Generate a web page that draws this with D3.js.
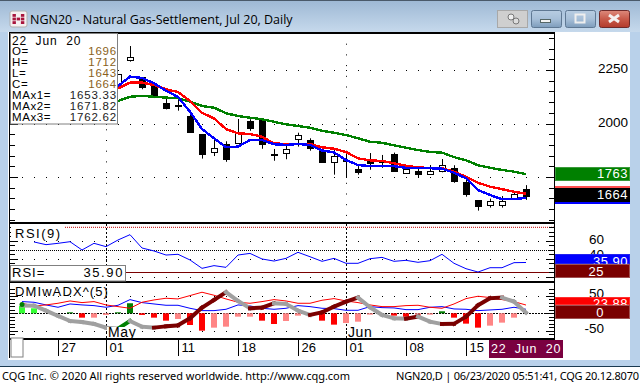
<!DOCTYPE html>
<html>
<head>
<meta charset="utf-8">
<script src="https://cdn.jsdelivr.net/npm/d3@7/dist/d3.min.js"></script>
<style>
html, body { margin: 0; padding: 0; background: #fff; overflow: hidden; }
svg { display: block; }
text { font-family: "Liberation Sans", sans-serif; fill: #000; }
</style>
</head>
<body>
<svg id="chart"></svg>
<script>
// trading days, 04-22 to 06-22
const dates = ['04-22', '04-23', '04-24', '04-27', '04-28', '04-29', '04-30', '05-01',
	'05-04', '05-05', '05-06', '05-07', '05-08', '05-11', '05-12', '05-13', '05-14', '05-15',
	'05-18', '05-19', '05-20', '05-21', '05-22', '05-26', '05-27', '05-28', '05-29',
	'06-01', '06-02', '06-03', '06-04', '06-05', '06-08', '06-09', '06-10', '06-11', '06-12',
	'06-15', '06-16', '06-17', '06-18', '06-19', '06-22'];

// price series begin 05-04 (the earlier bars sit behind the readout box)
const open = [2175, 2298, 2216, 2185, 2096, 2088, 2035, 1951, 1864, 1903, 1907, 2012, 2016, 1857, 1859, 1926, 1921, 1876, 1819,
	1829, 1787, 1829, 1825, 1857, 1767, 1778, 1763, 1779, 1791, 1725, 1641, 1618, 1621, 1649, 1696];
const high = [2231, 2362, 2217, 2194, 2118, 2122, 2055, 1951, 1923, 1917, 2021, 2020, 2024, 1881, 1904, 1957, 1931, 1878, 1876,
	1871, 1801, 1862, 1853, 1864, 1801, 1798, 1806, 1834, 1805, 1736, 1641, 1649, 1661, 1683, 1712];
const low = [2175, 2289, 2160, 2119, 2066, 2060, 1962, 1836, 1848, 1821, 1907, 1966, 1882, 1826, 1833, 1892, 1873, 1821, 1761,
	1750, 1761, 1784, 1793, 1775, 1767, 1747, 1763, 1772, 1723, 1658, 1593, 1607, 1607, 1649, 1643];
const close = [2231, 2311, 2169, 2129, 2074, 2082, 1962, 1856, 1884, 1831, 1959, 1980, 1906, 1851, 1879, 1945, 1882, 1821, 1847,
	1825, 1773, 1815, 1820, 1779, 1786, 1765, 1777, 1807, 1728, 1667, 1611, 1636, 1638, 1669, 1664];
const maBlue = [2175, 2219, 2213, 2188, 2153, 2124, 2055, 1974, 1931, 1889, 1892, 1923, 1923, 1903, 1900, 1904, 1900, 1874, 1865,
	1829, 1806, 1801, 1801, 1801, 1793, 1791, 1791, 1789, 1770, 1744, 1689, 1666, 1646, 1646, 1653];
const maRed = [2164, 2191, 2191, 2180, 2160, 2147, 2105, 2050, 2024, 1974, 1954, 1951, 1938, 1907, 1904, 1904, 1904, 1889, 1882,
	1867, 1837, 1828, 1825, 1814, 1803, 1795, 1792, 1791, 1775, 1751, 1723, 1705, 1693, 1681, 1672];
const maGreen = [2105, 2125, 2129, 2125, 2121, 2118, 2102, 2082, 2074, 2048, 2035, 2027, 2020, 2008, 1996, 1988, 1980, 1966, 1957,
	1946, 1931, 1915, 1910, 1898, 1887, 1876, 1867, 1864, 1843, 1828, 1805, 1793, 1783, 1775, 1763];

// RSI begins 04-23
const rsi = [58.7, 55.7, 57.2, 59, 49.8, 57.2, 53.5, 60.9, 66.8, 52, 48.7, 44.2, 45, 38.7, 29.4, 32.4, 30.5, 44.2, 46, 39.8, 37.5,
	40.5, 47.2, 42.3, 37.2, 40.5, 35, 35, 40.1, 41.6, 37.2, 38.3, 36.1, 37.9, 45, 35, 29, 25.3, 30.1, 30.1, 35.7, 35.9];

// DMI series begin 04-22
const dmiRed = [29, 21.3, 24.2, 29, 35.7, 30.9, 33.8, 24.2, 19.3, 14.5, 31.9, 38.6, 43.5, 41.5, 51.2, 60.9, 52.2, 41.5, 31.9, 29, 33.8, 39.6,
	35.7, 29, 29, 37.7, 42.5, 35.7, 30.9, 24.2, 19.3, 19.3, 22.2, 23.2, 17.4, 14.5, 27, 42.5, 49.3, 45.4, 39.6, 33.8, 23.88];
const dmiBlue = [33.8, 31.9, 24.2, 17.4, 27, 24.2, 22.2, 17.4, 23.2, 39.6, 30.9, 27, 23.2, 23.2, 14.5, 7.7, 7.7, 11.6, 24.2, 21.3, 14.5, 11.6,
	14.5, 22.2, 19.3, 14.5, 13.5, 8.7, 8.7, 19.3, 16.4, 15.5, 10.6, 10.6, 17.4, 19.3, 12.6, 11.6, 7.7, 9.7, 11.6, 17.4, 11.6];
const adx = [22.2, 22, 7.7, -7.7, -22.2, -25.1, -30.9, -41.5, -44.4, -22.2, -38.6, -41.5, -37.7, -34.8, -14.5, 16.4, 38.6, 60.9, 35.7, 14.5, 16.4, 29,
	27, 7.7, -4.8, 2.9, 19.3, 33.8, 45.4, 17.4, -4.8, -14.5, -15.5, -9.7, -24.2, -30.9, -30.5, -9.7, 23.2, 43.5, 45.4, 33.8, 1.9];
const dmiHist = [21.3, 14.5, 0, 0, 2.9, -12.6, -12.6, -4.8, 2.9, 29, -4.8, -12.6, -21.3, -16.4, -33.8, -50.2, -41.5, -38.6, -9.7, -9.7, -21.3, -30.9,
	-22.2, -6.8, 0, -21.3, -32.8, -28, -24.2, -3.9, 0, -6.8, -10.6, -8.7, -3.9, 5.8, -12.6, -29.9, -41.5, -35.7, -27, -12.6, 0];

const dateTicks = [['04-27', '27'], ['05-01', '01'], ['05-11', '11'], ['05-18', '18'], ['05-26', '26'], ['06-01', '01'], ['06-08', '08'], ['06-15', '15']];
const monthMarks = [['05-01', 'May'], ['06-01', 'Jun']];
const priceLabels = [2250, 2000];
const readout = [['O=', '1696'], ['H=', '1712'], ['L=', '1643'], ['C=', '1664'], ['MAx1=', '1653.33'], ['MAx2=', '1671.82'], ['MAx3=', '1762.62']];

const width = 640, height = 384;
const left = 10, right = 554;
const mainTop = 33, mainBottom = 222, rsiTop = 224, rsiBottom = 281, dmiTop = 283, dmiBottom = 338;

const colors = { blue: '#0000ff', red: '#ff0000', green: '#008000', maroon: '#7a0000', gray: '#a0a0a0', pale: '#ff8585', lime: '#33ff33' };

const svg = d3.select('#chart').attr('width', width).attr('height', height);

const x = d3.scalePoint().domain(dates).range([22, 526]);
const yMain = d3.scaleLinear().domain([1750, 2250]).range([177, 70]);
const yRsi = d3.scaleLinear().domain([25, 75]).range([272.3, 227.3]);
const yDmi = d3.scaleLinear().domain([-50, 50]).range([330.6, 296]);

const priceDates = dates.slice(8);
const rsiDates = dates.slice(1);

// ---- window frame ----
const defs = svg.append('defs');
const titleGrad = defs.append('linearGradient').attr('id', 'title-grad').attr('x1', 0).attr('x2', 0).attr('y1', 0).attr('y2', 1);
titleGrad.append('stop').attr('offset', 0).attr('stop-color', '#9db8d4');
titleGrad.append('stop').attr('offset', 1).attr('stop-color', '#c6d9ec');
const btnGrad = defs.append('linearGradient').attr('id', 'btn-grad').attr('x1', 0).attr('x2', 0).attr('y1', 0).attr('y2', 1);
btnGrad.append('stop').attr('offset', 0).attr('stop-color', '#b8cde2');
btnGrad.append('stop').attr('offset', 0.5).attr('stop-color', '#a7bfd8');
btnGrad.append('stop').attr('offset', 1).attr('stop-color', '#7d9cbb');
const closeGrad = defs.append('linearGradient').attr('id', 'close-grad').attr('x1', 0).attr('x2', 0).attr('y1', 0).attr('y2', 1);
closeGrad.append('stop').attr('offset', 0).attr('stop-color', '#dd8a7c');
closeGrad.append('stop').attr('offset', 0.5).attr('stop-color', '#c85a4a');
closeGrad.append('stop').attr('offset', 1).attr('stop-color', '#b23a2c');

svg.append('rect').attr('width', width).attr('height', height).attr('fill', '#b9d1ea');
svg.append('rect').attr('width', width).attr('height', 32).attr('fill', 'url(#title-grad)');
svg.append('rect').attr('x', 0).attr('y', 0).attr('width', width).attr('height', 1).attr('fill', '#4a5a6a');
svg.append('rect').attr('x', 8).attr('y', 32).attr('width', 622).attr('height', 328).attr('fill', '#fff');
svg.append('rect').attr('x', 0).attr('y', 367).attr('width', width).attr('height', 17).attr('fill', '#fff');
svg.append('rect').attr('x', 0).attr('y', 366).attr('width', width).attr('height', 1).attr('fill', '#1a3a50');

// app icon
svg.append('rect').attr('x', 10).attr('y', 11).attr('width', 17).attr('height', 16).attr('rx', 2).attr('fill', '#f4f0f0').attr('stroke', '#b0b0b0');
d3.range(3).forEach(col => d3.range(3).forEach(row => {
	if ((col + row) % 2 === 0 || row === 1) {
		svg.append('rect').attr('x', 12.5 + col * 4.2).attr('y', 14 + row * 3.6).attr('width', 3.4).attr('height', 2.8).attr('fill', '#a8143c');
	}
}));
svg.append('text').attr('x', 30).attr('y', 24).style('font-family', '"Open Sans"').style('font-size', '12.5px')
	.text('NGN20 - Natural Gas-Settlement, Jul 20, Daily');

// title bar buttons
svg.append('rect').attr('x', 497.5).attr('y', 10.5).attr('width', 30).attr('height', 17).attr('fill', '#cfcfcf').attr('stroke', '#a8a8a8');
svg.append('circle').attr('cx', 511).attr('cy', 17).attr('r', 3).attr('fill', '#eee').attr('stroke', '#777');
svg.append('circle').attr('cx', 516).attr('cy', 21).attr('r', 3).attr('fill', '#ddd').attr('stroke', '#777');
svg.append('rect').attr('x', 531.5).attr('y', 10.5).attr('width', 30).attr('height', 17).attr('rx', 2).attr('fill', 'url(#btn-grad)').attr('stroke', '#5f7893');
svg.append('rect').attr('x', 540.5).attr('y', 19.5).attr('width', 10).attr('height', 3).attr('fill', '#f4f4f4').attr('stroke', '#566');
svg.append('rect').attr('x', 565.5).attr('y', 10.5).attr('width', 30).attr('height', 17).attr('rx', 2).attr('fill', 'url(#btn-grad)').attr('stroke', '#5f7893');
svg.append('rect').attr('x', 575.5).attr('y', 14.5).attr('width', 9).attr('height', 8).attr('fill', 'none').attr('stroke', '#eee').attr('stroke-width', 2);
svg.append('rect').attr('x', 599.5).attr('y', 10.5).attr('width', 30).attr('height', 17).attr('rx', 2).attr('fill', 'url(#close-grad)').attr('stroke', '#6e2a2a');
svg.append('path').attr('d', 'M609,15L619,22M619,15L609,22').attr('stroke', '#f4f0f0').attr('stroke-width', 3).attr('fill', 'none');

// ---- grid ----
const dotRow = (y) => {
	svg.append('g').selectAll('rect').data(dates.concat(['x'])).join('rect')
		.attr('x', (d, i) => i < dates.length ? x(d) : x(dates[dates.length - 1]) + 12)
		.attr('y', Math.round(y))
		.attr('width', 1).attr('height', 1).attr('fill', '#000');
};
[1750, 2000, 2250].forEach(v => dotRow(yMain(v)));
[20, 40, 60].forEach(v => dotRow(yRsi(v)));
[-50, 50].forEach(v => dotRow(yDmi(v)));

monthMarks.forEach(([d]) => {
	svg.append('line').attr('x1', x(d) + 0.5).attr('x2', x(d) + 0.5).attr('y1', mainTop).attr('y2', mainBottom)
		.attr('stroke', '#000').attr('stroke-dasharray', '1 9.7');
	svg.append('line').attr('x1', x(d) + 0.5).attr('x2', x(d) + 0.5).attr('y1', rsiTop).attr('y2', dmiBottom)
		.attr('stroke', '#000').attr('stroke-dasharray', '2 2');
});

// ---- price pane ----
const candles = svg.append('g').selectAll('g').data(priceDates).join('g');
candles.append('rect')
	.attr('x', d => x(d))
	.attr('width', 1)
	.attr('y', (d, i) => yMain(high[i]))
	.attr('height', (d, i) => yMain(low[i]) - yMain(high[i]))
	.attr('fill', '#000');
candles.append('rect')
	.attr('x', d => x(d) - 2.5)
	.attr('width', 6)
	.attr('y', (d, i) => Math.round(Math.min(yMain(open[i]), yMain(close[i]))) + 0.5)
	.attr('height', (d, i) => Math.max(1, Math.round(Math.abs(yMain(open[i]) - yMain(close[i])))))
	.attr('fill', (d, i) => close[i] > open[i] ? '#fff' : '#000')
	.attr('stroke', '#000')
	.attr('shape-rendering', 'crispEdges');

const lineOf = (scale, days) => d3.line().x((d, i) => x(days[i])).y(d => scale(d));
[[maGreen, colors.green], [maRed, colors.red], [maBlue, colors.blue]].forEach(([values, color]) => {
	svg.append('path').attr('d', lineOf(yMain, priceDates)(values))
		.attr('fill', 'none').attr('stroke', color).attr('stroke-width', 2.4).attr('shape-rendering', 'crispEdges');
});

// ---- RSI pane ----
svg.append('line').attr('x1', 65).attr('x2', right).attr('y1', yRsi(75)).attr('y2', yRsi(75))
	.attr('stroke', '#c00000').attr('stroke-dasharray', '1 1');
svg.append('line').attr('x1', left).attr('x2', right).attr('y1', Math.round(yRsi(50)) + 0.5).attr('y2', Math.round(yRsi(50)) + 0.5)
	.attr('stroke', '#000').attr('stroke-dasharray', '1 1');
svg.append('line').attr('x1', left).attr('x2', right).attr('y1', Math.round(yRsi(25)) + 0.5).attr('y2', Math.round(yRsi(25)) + 0.5)
	.attr('stroke', colors.maroon);
svg.append('path').attr('d', lineOf(yRsi, rsiDates)(rsi))
	.attr('fill', 'none').attr('stroke', colors.blue).attr('stroke-width', 1);

// ---- DMI pane ----
svg.append('line').attr('x1', left).attr('x2', right).attr('y1', Math.round(yDmi(0)) + 0.5).attr('y2', Math.round(yDmi(0)) + 0.5)
	.attr('stroke', '#000').attr('stroke-dasharray', '2 1');

const histColor = (v, i) => {
	const prev = i > 0 ? dmiHist[i - 1] : undefined;
	if (v > 0) return prev !== undefined && v > prev ? colors.green : colors.lime;
	return prev !== undefined && v < prev ? colors.red : colors.pale;
};
svg.append('g').selectAll('rect').data(dmiHist).join('rect')
	.attr('x', (d, i) => x(dates[i]) - 3)
	.attr('width', 6)
	.attr('y', d => Math.min(yDmi(d), yDmi(0)))
	.attr('height', d => Math.abs(yDmi(d) - yDmi(0)))
	.attr('fill', histColor);

svg.append('path').attr('d', lineOf(yDmi, dates)(dmiBlue))
	.attr('fill', 'none').attr('stroke', colors.blue).attr('stroke-width', 1);
svg.append('path').attr('d', lineOf(yDmi, dates)(dmiRed))
	.attr('fill', 'none').attr('stroke', colors.red).attr('stroke-width', 1);

// ADX segments: gray falling, green or dark red rising by the sign of the histogram
const adxColor = i => adx[i] <= adx[i - 1] ? colors.gray : (dmiHist[i] > 0 ? colors.green : colors.maroon);
svg.append('g').selectAll('line').data(d3.range(1, adx.length)).join('line')
	.attr('x1', i => x(dates[i - 1]))
	.attr('x2', i => x(dates[i]))
	.attr('y1', i => yDmi(adx[i - 1]))
	.attr('y2', i => yDmi(adx[i]))
	.attr('stroke', adxColor)
	.attr('stroke-width', 4)
	.attr('stroke-linecap', 'square');
svg.append('circle').attr('cx', x(dates[0])).attr('cy', yDmi(adx[0]) - 1).attr('r', 2.5).attr('fill', colors.green);

// ---- axes ----
const tickLen = (scale, values, major) => values.forEach(v => {
	const isMajor = major.includes(v);
	const y = Math.round(scale(v)) + 0.5;
	svg.append('line').attr('x1', right - (isMajor ? 8 : 5)).attr('x2', right).attr('y1', y).attr('y2', y).attr('stroke', '#000');
	svg.append('line').attr('x1', left).attr('x2', left + (isMajor ? 8 : 5)).attr('y1', y).attr('y2', y).attr('stroke', '#000');
});
tickLen(yMain, d3.range(1550, 2450, 50).filter(v => yMain(v) > mainTop + 1 && yMain(v) < mainBottom), [1750, 2000, 2250]);
tickLen(yRsi, d3.range(15, 80, 5).filter(v => yRsi(v) > rsiTop + 1 && yRsi(v) < rsiBottom), [20, 40, 60]);
tickLen(yDmi, d3.range(-70, 80, 10).filter(v => yDmi(v) > dmiTop + 1 && yDmi(v) < dmiBottom), [-50, 0, 50]);

// pane borders
[[32, 2], [222, 2], [281, 2], [338, 2]].forEach(([y, h]) => {
	svg.append('rect').attr('x', left).attr('y', y).attr('width', right - left + 1).attr('height', h).attr('fill', '#000');
});
svg.append('rect').attr('x', left - 1).attr('y', 32).attr('width', 1).attr('height', 326).attr('fill', '#000');
svg.append('rect').attr('x', right).attr('y', 32).attr('width', 1).attr('height', 308).attr('fill', '#000');

// date axis
const dateAxis = d3.axisBottom(x).tickValues(dateTicks.map(d => d[0])).tickSize(17).tickSizeOuter(0)
	.tickFormat(d => dateTicks.find(t => t[0] === d)[1]);
const axisG = svg.append('g').attr('transform', 'translate(0,339)').call(dateAxis);
axisG.select('.domain').remove();
axisG.selectAll('.tick line').attr('stroke', '#000');
axisG.selectAll('.tick text').attr('text-anchor', 'start').attr('x', 3).attr('y', 4)
	.style('font-size', '13px').attr('dy', '0.71em').attr('fill', '#000');

svg.append('rect').attr('x', 11).attr('y', 338).attr('width', 12).attr('height', 19).attr('fill', '#fff').attr('stroke', '#808080');

monthMarks.forEach(([d, label]) => {
	svg.append('rect').attr('x', x(d) + 1).attr('y', 327).attr('width', 25).attr('height', 11).attr('fill', '#fff');
	svg.append('text').attr('x', x(d) + 2).attr('y', 337).style('font-size', '14px').style('letter-spacing', '0.6px').text(label);
});

// ---- right hand labels ----
const axisLabel = (value, y) => svg.append('text').attr('x', 628).attr('y', y).attr('text-anchor', 'end')
	.style('font-size', '13.5px').text(value);
priceLabels.forEach(v => axisLabel(v, yMain(v) + 3));
axisLabel('60', 244).attr('x', 604);
axisLabel('40', 259).attr('x', 604);
axisLabel('50', 298).attr('x', 604);
axisLabel('-50', 333).attr('x', 604);

const tag = (y, h, fill, label, textY, stroke, anchorX) => {
	svg.append('rect').attr('x', 555.5).attr('y', y + 0.5).attr('width', 74).attr('height', h - 1).attr('fill', fill).attr('stroke', stroke);
	const clipId = 'clip-' + y;
	defs.append('clipPath').attr('id', clipId).append('rect').attr('x', 555).attr('y', y).attr('width', 75).attr('height', h);
	svg.append('text').attr('x', anchorX).attr('y', textY).attr('text-anchor', 'end').attr('clip-path', `url(#${clipId})`)
		.style('font-size', '13px').style('fill', '#fff').style('letter-spacing', '0.5px').text(label);
};
tag(167, 14, colors.green, '1763', 178, '#3a9a3a', 628);
svg.append('rect').attr('x', 555).attr('y', 186).attr('width', 75).attr('height', 2).attr('fill', '#ff5050');
tag(188, 14, '#000', '1664', 199, '#000', 628);
svg.append('rect').attr('x', 555).attr('y', 202).attr('width', 75).attr('height', 2).attr('fill', colors.blue);
tag(254, 10, colors.blue, '35.90', 266, '#2222ee', 628);
tag(264, 14, colors.maroon, '25', 276, '#a05050', 604);
tag(297, 8, colors.red, '23.88', 308, '#ff3030', 628);
tag(305, 14, colors.maroon, '0', 317, '#a05050', 604);

// cursor date tag
svg.append('rect').attr('x', 489).attr('y', 340).attr('width', 74).attr('height', 18).attr('fill', '#7a0040');
svg.append('text').attr('x', 491).attr('y', 353).style('font-size', '12.5px').style('fill', '#fff').style('letter-spacing', '0.75px').attr('xml:space', 'preserve').text('22  Jun  20');

// ---- readouts ----
svg.append('rect').attr('x', 10.5).attr('y', 33.5).attr('width', 107).attr('height', 90.5).attr('fill', '#fff').attr('stroke', '#808080');
svg.append('text').attr('x', 12).attr('y', 45).style('font-size', '12px').style('letter-spacing', '0.9px').attr('xml:space', 'preserve').text('22  Jun  20');
readout.forEach(([name, value], i) => {
	const y = 55 + i * 11;
	svg.append('text').attr('x', 12).attr('y', y).style('font-size', '11.5px').style('letter-spacing', '0.6px').text(name);
	svg.append('text').attr('x', 117).attr('y', y).attr('text-anchor', 'end').style('font-size', '11.5px').style('letter-spacing', '0.8px')
		.style('fill', i < 4 ? '#8a5f20' : '#222').text(value);
});

svg.append('rect').attr('x', 11).attr('y', 225).attr('width', 54).attr('height', 14).attr('fill', '#fff');
svg.append('text').attr('x', 15).attr('y', 238).style('font-size', '13px').style('letter-spacing', '1.5px').text('RSI(9)');
svg.append('rect').attr('x', 10.5).attr('y', 265.5).attr('width', 115).attr('height', 15.5).attr('fill', '#fff').attr('stroke', '#808080');
svg.append('text').attr('x', 12).attr('y', 277).style('font-size', '13px').style('letter-spacing', '1px').text('RSI=');
svg.append('text').attr('x', 124).attr('y', 277).attr('text-anchor', 'end').style('font-size', '13px').style('letter-spacing', '1.6px').text('35.90');

svg.append('text').attr('x', 15).attr('y', 296).style('font-size', '13px').style('letter-spacing', '1.1px').text('DMIwADX^(5)');

// ---- status bar ----
svg.append('text').attr('x', 2).attr('y', 380).style('font-family', '"Noto Sans"').style('font-size', '11px')
	.attr('textLength', 348).attr('lengthAdjust', 'spacing')
	.text('CQG Inc. © 2020 All rights reserved worldwide. http://www.cqg.com');
svg.append('text').attr('x', 396).attr('y', 380).style('font-family', '"Noto Sans"').style('font-size', '11px')
	.attr('textLength', 243).attr('lengthAdjust', 'spacing')
	.text('NGN20,D | 06/23/2020 05:51:41, CQG 20.12.8070');
</script>
</body>
</html>
